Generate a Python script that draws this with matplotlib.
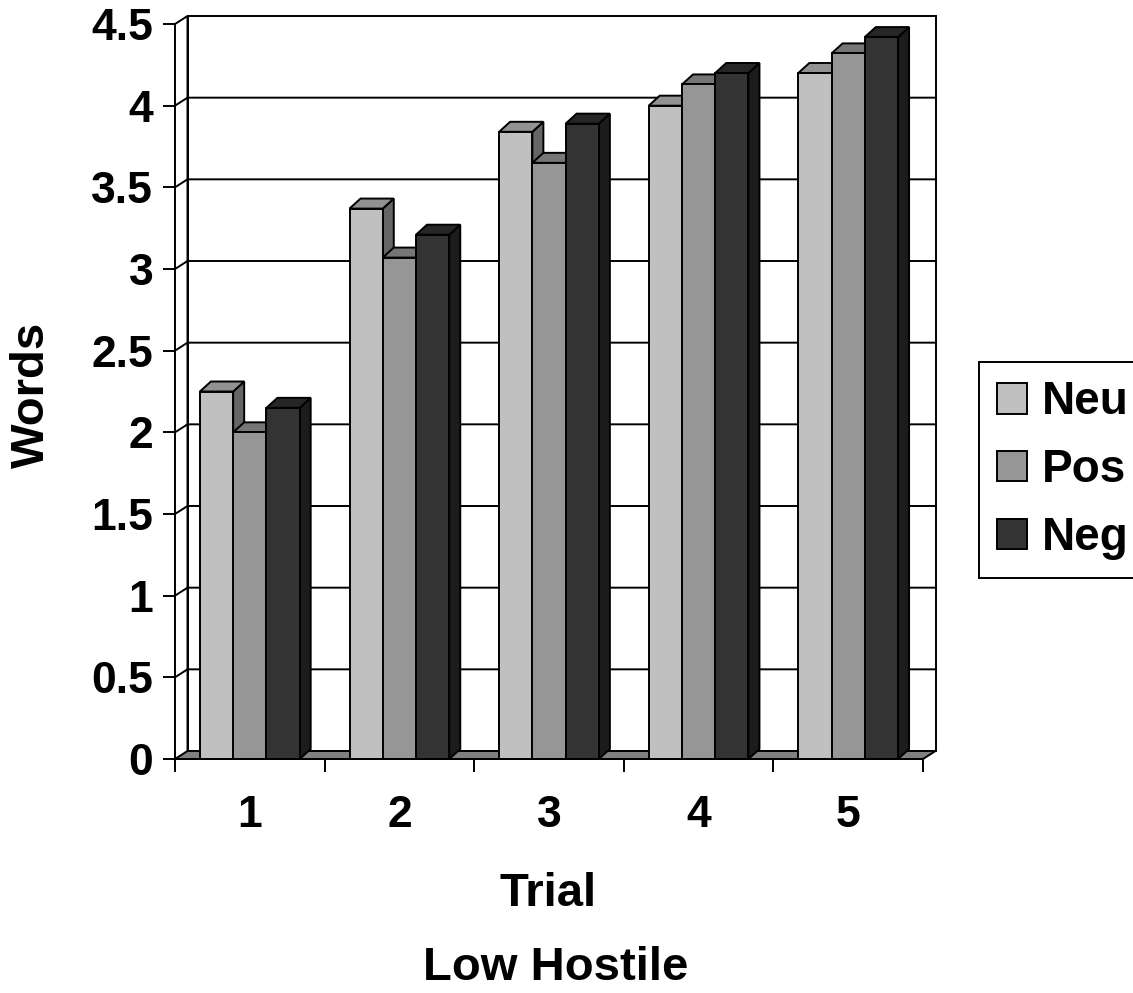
import matplotlib.pyplot as plt
from matplotlib.patches import Polygon, Patch

# Mean words recalled per trial, low hostile group
trials = ['1', '2', '3', '4', '5']
neu = [2.25, 3.37, 3.84, 4.00, 4.20]
pos = [2.00, 3.07, 3.65, 4.13, 4.32]
neg = [2.15, 3.21, 3.89, 4.20, 4.42]
series_names = ['Neu', 'Pos', 'Neg']
y_ticks = [0, 0.5, 1, 1.5, 2, 2.5, 3, 3.5, 4, 4.5]
y_tick_labels = ['0', '0.5', '1', '1.5', '2', '2.5', '3', '3.5', '4', '4.5']

front_colors = ['#C0C0C0', '#969696', '#333333']
top_colors = ['#929292', '#767676', '#262626']
side_colors = ['#666666', '#535353', '#1C1C1C']

plt.rcParams['font.family'] = 'Liberation Sans'
plt.rcParams['font.weight'] = 'bold'

fig = plt.figure(figsize=(11.33, 9.93), dpi=100)
# axes = front plane of the 3-D box
ax = fig.add_axes([175 / 1133, 1 - 759 / 993, 748 / 1133, 735 / 993])
ax.set_xlim(0.5, 5.5)
ax.set_ylim(0, 4.5)

# pixel depth offsets -> data units
px_x = 748 / 5.0
px_y = 735 / 4.5
wdx, wdy = 12.5 / px_x, 8 / px_y     # walls / floor
bdx, bdy = 11 / px_x, 10 / px_y      # bars
lw = 1.4

def poly(pts, fc, z):
    ax.add_patch(Polygon(pts, closed=True, facecolor=fc, edgecolor='black',
                         linewidth=lw, zorder=z, clip_on=False))

# back wall and floor
x0, x1 = 0.5, 5.5
poly([(x0 + wdx, wdy), (x1 + wdx, wdy), (x1 + wdx, 4.5 + wdy), (x0 + wdx, 4.5 + wdy)], 'white', 1)
poly([(x0, 0), (x1, 0), (x1 + wdx, wdy), (x0 + wdx, wdy)], '#808080', 2)
ax.plot([x0, x0 + wdx, x0 + wdx], [4.5, 4.5 + wdy, wdy], color='black', lw=lw,
        zorder=2, clip_on=False)
for v in y_ticks[1:-1]:
    ax.plot([x0, x0 + wdx, x1 + wdx], [v, v + wdy, v + wdy], color='black',
            lw=lw, zorder=1.5, clip_on=False)

# bars, drawn left to right so each front face hides the previous side face
n = len(series_names)
bw = 1.0 / (n + 1.5)
z = 3
for i, c in enumerate(range(1, len(trials) + 1)):
    for j, vals in enumerate([neu, pos, neg]):
        v = vals[i]
        left = c - n * bw / 2 + j * bw
        right = left + bw
        poly([(right, 0), (right + bdx, bdy), (right + bdx, v + bdy), (right, v)],
             side_colors[j], z)
        poly([(left, v), (right, v), (right + bdx, v + bdy), (left + bdx, v + bdy)],
             top_colors[j], z)
        poly([(left, 0), (right, 0), (right, v), (left, v)], front_colors[j], z + 0.5)
        z += 1

for s in ['top', 'right']:
    ax.spines[s].set_visible(False)
for s in ['left', 'bottom']:
    ax.spines[s].set_linewidth(lw)
    ax.spines[s].set_zorder(100)
ax.patch.set_visible(False)

ax.set_yticks(y_ticks)
ax.set_yticklabels(y_tick_labels)
ax.tick_params(axis='y', direction='out', length=8.6, width=lw, pad=7, labelsize=32)
ax.set_xticks([0.5, 1.5, 2.5, 3.5, 4.5, 5.5])
ax.set_xticklabels([])
ax.tick_params(axis='x', which='major', direction='out', length=9.4, width=lw)
ax.set_xticks([1, 2, 3, 4, 5], minor=True)
ax.set_xticklabels(trials, minor=True)
ax.tick_params(axis='x', which='minor', length=0, pad=26, labelsize=32)

fig.text(32 / 1133, 1 - 395 / 993, 'Words', rotation=90, ha='center', va='center',
         fontsize=34, fontweight='bold')
fig.text(548 / 1133, 1 - 894 / 993, 'Trial', ha='center', va='center',
         fontsize=34, fontweight='bold')
fig.text(556 / 1133, 1 - 968 / 993, 'Low Hostile', ha='center', va='center',
         fontsize=34, fontweight='bold')

handles = [Patch(facecolor=front_colors[k], edgecolor='black', linewidth=lw)
           for k in range(n)]
leg = fig.legend(handles, series_names, loc='upper left',
                 bbox_to_anchor=(979 / 1133, 1 - 362 / 993), fontsize=33,
                 handlelength=0.65, handleheight=0.65, handletextpad=0.33,
                 borderpad=0.4, labelspacing=0.52, borderaxespad=0,
                 fancybox=False, framealpha=1)
leg.get_frame().set_edgecolor('black')
leg.get_frame().set_linewidth(lw)

fig.savefig('out.png', dpi=100)
